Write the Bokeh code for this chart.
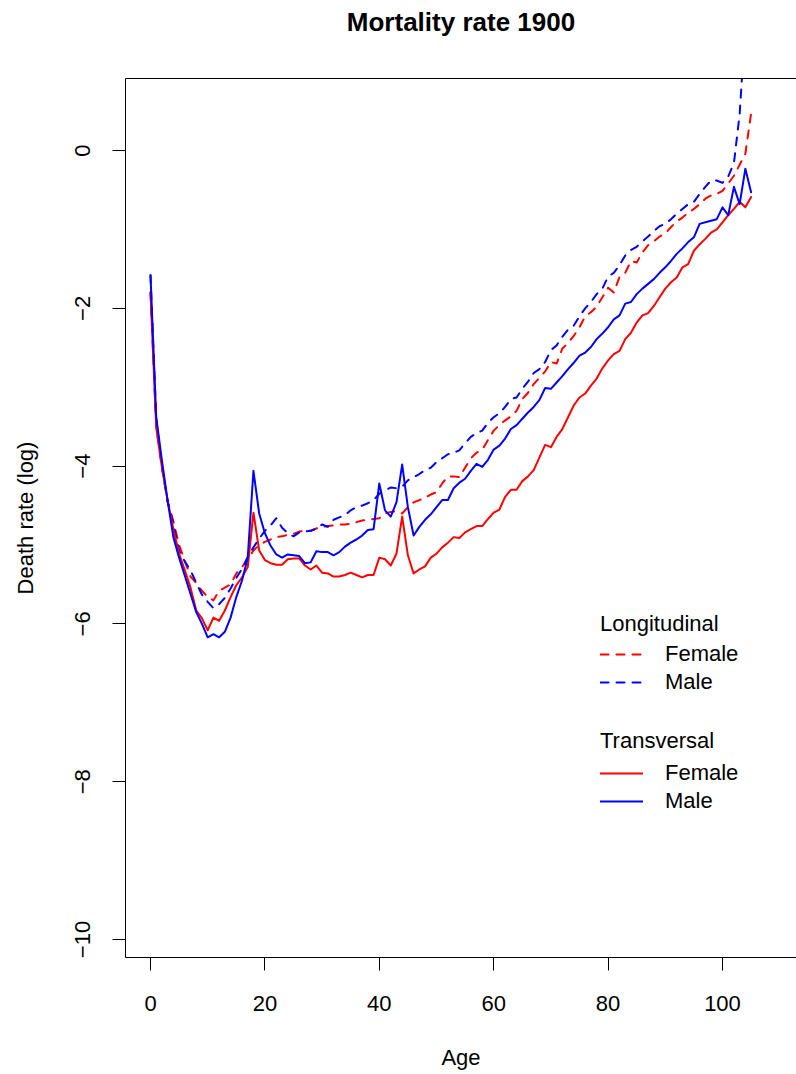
from bokeh.plotting import figure
from bokeh.models import Range1d, LinearAxis, FixedTicker, Legend, LegendItem
from bokeh.embed import file_html
from bokeh.resources import INLINE

# ---------------- data ----------------
ages = list(range(0, 106))

long_female = [
    -1.80, -3.50, -4.02, -4.45, -4.70, -5.00, -5.20, -5.40, -5.48, -5.58,
    -5.66, -5.70, -5.58, -5.54, -5.50, -5.36, -5.28, -5.18, -5.07, -5.00,
    -4.96, -4.93, -4.90, -4.89, -4.87, -4.86, -4.83, -4.82, -4.82, -4.79,
    -4.77, -4.76, -4.75, -4.74, -4.74, -4.73, -4.71, -4.69, -4.68, -4.67,
    -4.66, -4.60, -4.58, -4.57, -4.60, -4.52, -4.46, -4.43, -4.40, -4.36,
    -4.33, -4.22, -4.13, -4.13, -4.14, -4.02, -3.90, -3.83, -3.79, -3.67,
    -3.55, -3.48, -3.42, -3.37, -3.30, -3.15, -3.07, -2.96, -2.88, -2.80,
    -2.68, -2.70, -2.51, -2.44, -2.35, -2.24, -2.10, -2.05, -1.98, -1.86,
    -1.74, -1.80, -1.60, -1.55, -1.40, -1.42, -1.29, -1.20, -1.15, -1.09,
    -1.05, -0.97, -0.90, -0.85, -0.79, -0.74, -0.68, -0.61, -0.57, -0.55,
    -0.51, -0.42, -0.32, -0.18, -0.04, 0.47,
]

long_male = [
    -1.58, -3.40, -4.00, -4.45, -4.73, -5.07, -5.21, -5.32, -5.48, -5.63,
    -5.72, -5.80, -5.75, -5.67, -5.55, -5.42, -5.30, -5.15, -5.03, -4.92,
    -4.82, -4.75, -4.66, -4.78, -4.85, -4.89, -4.84, -4.83, -4.82, -4.79,
    -4.74, -4.77, -4.68, -4.65, -4.62, -4.56, -4.52, -4.50, -4.47, -4.43,
    -4.35, -4.31, -4.27, -4.28, -4.26, -4.18, -4.14, -4.10, -4.05, -4.02,
    -3.95, -3.90, -3.85, -3.83, -3.80, -3.71, -3.63, -3.58, -3.55, -3.45,
    -3.38, -3.33, -3.25, -3.15, -3.13, -3.02, -2.93, -2.82, -2.77, -2.68,
    -2.53, -2.47, -2.36, -2.27, -2.22, -2.10, -2.00, -1.92, -1.82, -1.75,
    -1.60, -1.55, -1.45, -1.33, -1.26, -1.22, -1.15, -1.09, -1.02, -0.96,
    -0.93, -0.87, -0.80, -0.74, -0.68, -0.65, -0.55, -0.46, -0.38, -0.38,
    -0.41, -0.33, -0.16, 0.46, 1.60, 2.20,
]

trans_female = [
    -1.80, -3.51, -4.02, -4.44, -4.80, -5.11, -5.32, -5.54, -5.83, -5.93,
    -6.08, -5.92, -5.96, -5.83, -5.66, -5.51, -5.41, -5.28, -4.59, -5.07,
    -5.19, -5.23, -5.25, -5.25, -5.18, -5.17, -5.17, -5.26, -5.31, -5.26,
    -5.35, -5.36, -5.40, -5.40, -5.38, -5.35, -5.38, -5.41, -5.38, -5.38,
    -5.16, -5.18, -5.26, -5.11, -4.64, -5.13, -5.36, -5.31, -5.27, -5.16,
    -5.11, -5.03, -4.97, -4.90, -4.91, -4.84, -4.80, -4.76, -4.76, -4.67,
    -4.59, -4.55, -4.39, -4.30, -4.30, -4.19, -4.13, -4.05, -3.89, -3.73,
    -3.76, -3.63, -3.53, -3.38, -3.23, -3.13, -3.08, -2.98, -2.89, -2.76,
    -2.66, -2.58, -2.54, -2.39, -2.31, -2.18, -2.09, -2.06, -1.97, -1.86,
    -1.75, -1.67, -1.61, -1.48, -1.44, -1.27, -1.19, -1.12, -1.04, -1.00,
    -0.91, -0.82, -0.74, -0.65, -0.72, -0.59,
]

trans_male = [
    -1.58, -3.38, -3.93, -4.44, -4.90, -5.16, -5.39, -5.62, -5.85, -6.00,
    -6.17, -6.13, -6.17, -6.10, -5.92, -5.66, -5.45, -5.16, -4.06, -4.60,
    -4.85, -5.01, -5.12, -5.16, -5.12, -5.13, -5.14, -5.23, -5.22, -5.08,
    -5.09, -5.09, -5.13, -5.09, -5.02, -4.97, -4.93, -4.88, -4.81, -4.80,
    -4.22, -4.56, -4.64, -4.46, -3.98, -4.52, -4.88, -4.77, -4.68, -4.61,
    -4.52, -4.43, -4.43, -4.28, -4.21, -4.16, -4.06, -3.97, -4.01, -3.92,
    -3.79, -3.74, -3.65, -3.53, -3.48, -3.40, -3.32, -3.25, -3.16, -3.01,
    -3.02, -2.94, -2.86, -2.77, -2.69, -2.60, -2.56, -2.49, -2.39, -2.32,
    -2.24, -2.14, -2.09, -1.94, -1.92, -1.82, -1.75, -1.69, -1.63, -1.55,
    -1.48, -1.40, -1.31, -1.24, -1.16, -1.10, -0.93, -0.91, -0.89, -0.87,
    -0.72, -0.82, -0.46, -0.68, -0.23, -0.53,
]

x_ticks = [0, 20, 40, 60, 80, 100]
y_ticks = [0, -2, -4, -6, -8, -10]
y_tick_labels = {0: "0", -2: "\u22122", -4: "\u22124", -6: "\u22126", -8: "\u22128", -10: "\u221210"}

TITLE = "Mortality rate 1900"
FONT = "Liberation Sans"
RED = "#FF0000"
BLUE = "#0000FF"

# ---------------- figure ----------------
p = figure(
    width=796, height=1074,
    x_range=Range1d(-4.37, 112.94), y_range=Range1d(-10.228, 0.913),
    output_backend="svg", toolbar_location=None,
    min_border_left=125, min_border_right=0, min_border_top=78, min_border_bottom=117,
    x_axis_label="Age", y_axis_label="Death rate (log)",
)
p.outline_line_color = None
p.grid.visible = False
p.background_fill_color = "white"
p.border_fill_color = "white"

for ax in (p.xaxis[0], p.yaxis[0]):
    ax.axis_line_color = "black"
    ax.axis_line_width = 1
    ax.major_tick_line_color = "black"
    ax.major_tick_in = 0
    ax.major_tick_out = 13
    ax.minor_tick_line_color = None
    ax.major_label_text_font = FONT
    ax.major_label_text_font_size = "22px"
    ax.major_label_text_color = "black"
    ax.axis_label_text_font = FONT
    ax.axis_label_text_font_size = "22px"
    ax.axis_label_text_font_style = "normal"
    ax.axis_label_text_color = "black"

p.xaxis[0].ticker = FixedTicker(ticks=x_ticks)
p.xaxis[0].major_label_standoff = 25
p.xaxis[0].axis_label_standoff = 31

p.yaxis[0].ticker = FixedTicker(ticks=y_ticks)
p.yaxis[0].major_label_overrides = y_tick_labels
p.yaxis[0].major_label_orientation = "vertical"
p.yaxis[0].major_label_standoff = 22
p.yaxis[0].axis_label_standoff = 35

# top edge of the box, carrying the chart title as its label
top = LinearAxis(ticker=FixedTicker(ticks=[]), major_label_text_font_size="0px",
                 major_tick_out=0, major_tick_in=0, minor_tick_out=0, minor_tick_in=0,
                 axis_line_color="black", major_label_standoff=0,
                 axis_label=TITLE, axis_label_standoff=42,
                 axis_label_text_font=FONT, axis_label_text_font_size="26px",
                 axis_label_text_font_style="bold", axis_label_text_color="black")
p.add_layout(top, "above")

# ---------------- lines ----------------
kw = dict(line_width=2, line_cap="round", line_join="round")
r_lf = p.line(ages, long_female, line_color=RED, line_dash="8 8", **kw)
r_lm = p.line(ages, long_male, line_color=BLUE, line_dash="8 8", **kw)
r_tf = p.line(ages, trans_female, line_color=RED, **kw)
r_tm = p.line(ages, trans_male, line_color=BLUE, **kw)

# ---------------- legends ----------------
def make_legend(title, items, loc, tstand):
    lg = Legend(items=items, title=title, location=loc)
    lg.title_text_font = FONT
    lg.title_text_font_size = "22px"
    lg.title_text_font_style = "normal"
    lg.title_text_color = "black"
    lg.title_standoff = tstand
    lg.label_text_font = FONT
    lg.label_text_font_size = "22px"
    lg.label_text_color = "black"
    lg.glyph_width = 43
    lg.glyph_height = 28
    lg.label_height = 28
    lg.label_standoff = 22
    lg.spacing = 0
    lg.padding = 0
    lg.margin = 0
    lg.border_line_alpha = 0
    lg.background_fill_alpha = 0
    return lg

leg1 = make_legend("Longitudinal",
                   [LegendItem(label="Female", renderers=[r_lf]),
                    LegendItem(label="Male", renderers=[r_lm])],
                   (475, 261), 3)
leg2 = make_legend("Transversal",
                   [LegendItem(label="Female", renderers=[r_tf]),
                    LegendItem(label="Male", renderers=[r_tm])],
                   (475, 142), 5)
p.add_layout(leg1)
p.add_layout(leg2)

open("out.html", "w").write(file_html(p, INLINE))
